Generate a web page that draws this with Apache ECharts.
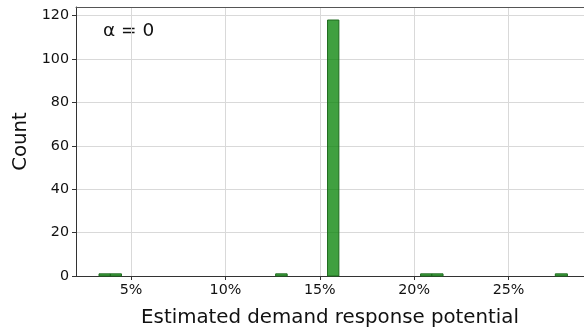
<!DOCTYPE html>
<html>
<head>
<meta charset="utf-8">
<script src="https://cdn.jsdelivr.net/npm/echarts@6/dist/echarts.min.js"></script>
<style>
  html, body { margin: 0; padding: 0; background: #fff; }
  #chart { width: 584px; height: 334px; }
</style>
</head>
<body>
<div id="chart"></div>
<script>
// Histogram bins: left edge (%), right edge (%), count
const binStart = [3.30, 3.90, 12.66, 15.41, 20.34, 20.93, 27.48];
const binEnd   = [3.90, 4.49, 13.27, 16.01, 20.93, 21.53, 28.12];
const counts   = [1, 1, 1, 118, 1, 1, 1];

const xTicks = [5, 10, 15, 20, 25];
const yTicks = [0, 20, 40, 60, 80, 100, 120];
const annotation = 'α = 0';

const FONT = 'DejaVu Sans';
const AXIS = '#333333';
const GRID = '#d9d9d9';
const TEXT = '#111111';

const bins = binStart.map((s, i) => [s, binEnd[i], counts[i]]);

const chart = echarts.init(document.getElementById('chart'), null, { renderer: 'canvas' });

chart.setOption({
  animation: false,
  backgroundColor: '#ffffff',
  grid: { left: 76, right: 0, top: 7, bottom: 58, containLabel: false },
  xAxis: [{
    type: 'value',
    min: 2.08,
    max: 29.0,
    interval: 5,
    name: 'Estimated demand response potential',
    nameLocation: 'middle',
    nameGap: 32,
    nameTextStyle: { fontFamily: FONT, fontSize: 19.8, color: TEXT },
    axisLine: { show: true, lineStyle: { color: AXIS, width: 1 } },
    axisTick: { show: true, length: 4, lineStyle: { color: AXIS }, customValues: xTicks },
    axisLabel: {
      fontFamily: FONT, fontSize: 14.3, color: TEXT, margin: 7,
      customValues: xTicks,
      formatter: v => Math.round(v) + '%'
    },
    splitLine: { show: true, lineStyle: { color: GRID, width: 1 } }
  }, {
    type: 'value',
    position: 'top',
    min: 2.08,
    max: 29.0,
    axisLine: { show: true, lineStyle: { color: '#555555', width: 1 } },
    axisTick: { show: false },
    axisLabel: { show: false },
    splitLine: { show: false }
  }],
  yAxis: {
    type: 'value',
    min: 0,
    max: 124,
    interval: 20,
    name: 'Count',
    nameLocation: 'middle',
    nameGap: 42,
    nameTextStyle: { fontFamily: FONT, fontSize: 19.8, color: TEXT },
    axisLine: { show: true, lineStyle: { color: AXIS, width: 1 } },
    axisTick: { show: true, length: 4, lineStyle: { color: AXIS }, customValues: yTicks },
    axisLabel: { fontFamily: FONT, fontSize: 14.3, color: TEXT, margin: 7, customValues: yTicks },
    splitLine: { show: true, lineStyle: { color: GRID, width: 1 } }
  },
  graphic: [{
    type: 'text',
    left: 103,
    top: 22,
    style: { text: annotation, font: '18.5px "DejaVu Sans"', fill: TEXT }
  }],
  series: [{
    type: 'custom',
    xAxisIndex: 0,
    data: bins,
    encode: { x: [0, 1], y: 2 },
    renderItem: function (params, api) {
      const p0 = api.coord([api.value(0), api.value(2)]);
      const p1 = api.coord([api.value(1), 0]);
      return {
        type: 'rect',
        shape: { x: p0[0], y: p0[1], width: p1[0] - p0[0], height: p1[1] - p0[1] },
        style: { fill: 'rgba(0,128,0,0.75)', stroke: '#1d6b1d', lineWidth: 1 }
      };
    }
  }]
});
</script>
</body>
</html>
